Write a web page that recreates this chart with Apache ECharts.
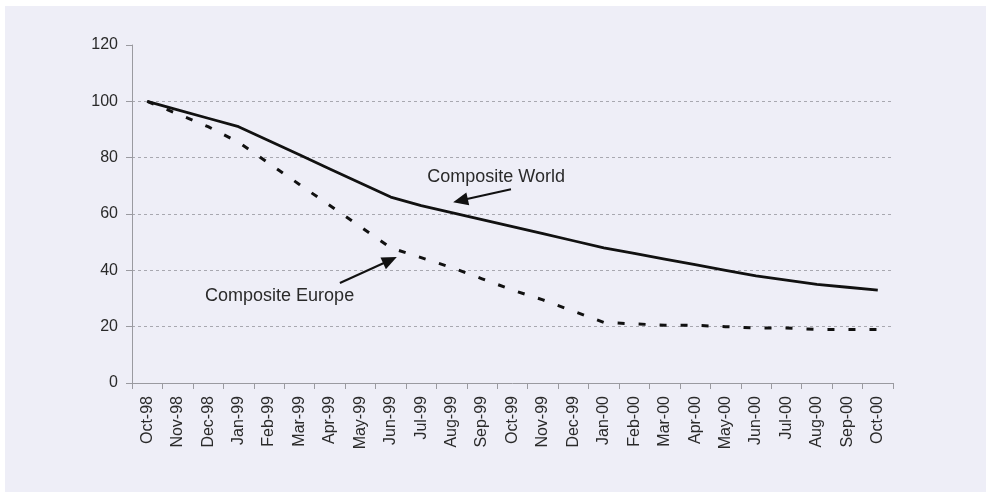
<!DOCTYPE html>
<html>
<head>
<meta charset="utf-8">
<script src="https://cdn.jsdelivr.net/npm/echarts@6/dist/echarts.min.js"></script>
<style>
html,body{margin:0;padding:0;background:#fff;}
#chart{width:986px;height:494px;}
</style>
</head>
<body>
<div id="chart"></div>
<script>
const categories = ['Oct-98','Nov-98','Dec-98','Jan-99','Feb-99','Mar-99','Apr-99','May-99','Jun-99','Jul-99','Aug-99','Sep-99','Oct-99','Nov-99','Dec-99','Jan-00','Feb-00','Mar-00','Apr-00','May-00','Jun-00','Jul-00','Aug-00','Sep-00','Oct-00'];
const compositeWorld = [100, 97, 94, 91, 86, 81, 76, 71, 66, 63, 60.5, 58, 55.5, 53, 50.5, 48, 46, 44, 42, 40, 38, 36.5, 35, 34, 33];
const compositeEurope = [100, 95.5, 91, 85.5, 78, 70.5, 63, 55.5, 48, 44.5, 41, 37, 33, 29.5, 25.5, 21.5, 21, 20.5, 20.5, 20, 19.5, 19.5, 19, 19, 19];
const yTicks = {min: 0, max: 120, interval: 20};
// annotation anchors in data space: [category index, value]
const worldLabel = {text: 'Composite World', at: [9.2, 73.0], from: [11.95, 68.8], to: [10.05, 64.2]};
const europeLabel = {text: 'Composite Europe', at: [1.9, 31.0], from: [6.33, 35.5], to: [8.2, 44.7]};

const chart = echarts.init(document.getElementById('chart'), null, {renderer: 'canvas'});
const font = 'Liberation Sans, Arial, sans-serif';
const option = {
  backgroundColor: '#ffffff',
  animation: false,
  grid: {left: 132, right: 93, top: 45, bottom: 111},
  xAxis: {
    type: 'category',
    data: categories,
    boundaryGap: true,
    axisLine: {lineStyle: {color: '#9a9aa0', width: 1}},
    axisTick: {show: true, alignWithLabel: false, length: 6, lineStyle: {color: '#9a9aa0'}},
    axisLabel: {interval: 0, rotate: 90, margin: 13, color: '#2a2a2a', fontSize: 16, fontFamily: font},
    splitLine: {show: false}
  },
  yAxis: {
    type: 'value',
    min: yTicks.min, max: yTicks.max, interval: yTicks.interval,
    axisLine: {show: true, lineStyle: {color: '#9a9aa0', width: 1}},
    axisTick: {show: true, length: 6, lineStyle: {color: '#9a9aa0'}},
    axisLabel: {color: '#2a2a2a', fontSize: 16, fontFamily: font, margin: 14},
    splitLine: {show: true, showMinLine: false, showMaxLine: false, lineStyle: {color: '#a8a8b0', type: [3, 3], width: 1}}
  },
  series: [
    {
      name: 'Composite World', type: 'line', data: compositeWorld,
      symbol: 'none', smooth: false,
      lineStyle: {color: '#111', width: 2.8, type: 'solid'},
      z: 3
    },
    {
      name: 'Composite Europe', type: 'line', data: compositeEurope,
      symbol: 'none', smooth: false,
      lineStyle: {color: '#111', width: 3, type: [7, 14], cap: 'butt'},
      z: 3
    }
  ]
};
chart.setOption(option);

function px(pt) {
  const a = chart.convertToPixel({gridIndex: 0}, [0, 0]);
  const b = chart.convertToPixel({gridIndex: 0}, [categories.length - 1, 120]);
  const x = a[0] + (b[0] - a[0]) * pt[0] / (categories.length - 1);
  const y = a[1] + (b[1] - a[1]) * pt[1] / 120;
  return [x, y];
}
function arrow(from, to) {
  const p0 = px(from), p1 = px(to);
  const dx = p1[0] - p0[0], dy = p1[1] - p0[1];
  const len = Math.sqrt(dx * dx + dy * dy);
  const ux = dx / len, uy = dy / len;
  const hl = 15, hw = 6.5;
  const bx = p1[0] - ux * hl, by = p1[1] - uy * hl;
  return [
    {type: 'line', shape: {x1: p0[0], y1: p0[1], x2: bx + ux * 2, y2: by + uy * 2}, style: {stroke: '#111', lineWidth: 2}, z: 10},
    {type: 'polygon', shape: {points: [[p1[0], p1[1]], [bx - uy * hw, by + ux * hw], [bx + uy * hw, by - ux * hw]]}, style: {fill: '#111'}, z: 10}
  ];
}
function label(l) {
  const p = px(l.at);
  return {type: 'text', x: p[0], y: p[1], style: {text: l.text, fill: '#2a2a2a', font: '18px ' + font, verticalAlign: 'middle', align: 'left'}, z: 10};
}
chart.setOption({
  graphic: [
    {type: 'rect', shape: {x: 5, y: 6, width: 981, height: 486}, style: {fill: '#eeeef7'}, z: -10, silent: true},
    label(worldLabel), label(europeLabel)
  ].concat(arrow(worldLabel.from, worldLabel.to), arrow(europeLabel.from, europeLabel.to))
});
</script>
</body>
</html>
